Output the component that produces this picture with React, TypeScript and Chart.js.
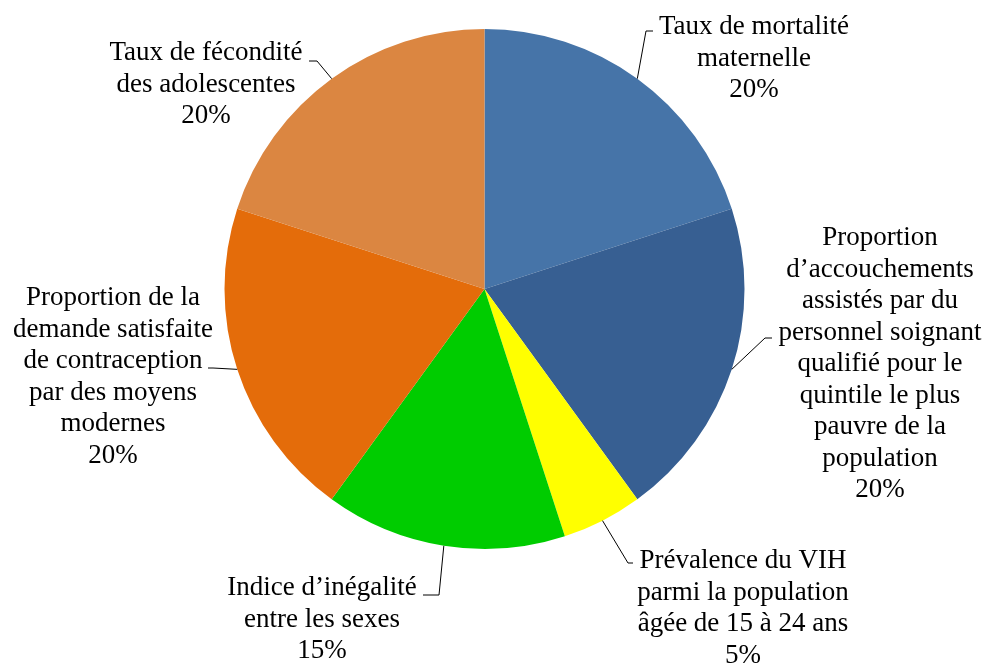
import React, { useEffect, useRef } from "react";
import { Chart, registerables } from "chart.js";

Chart.register(...registerables);

const categories = [
  "Taux de mortalité\nmaternelle",
  "Proportion\nd’accouchements\nassistés par du\npersonnel soignant\nqualifié pour le\nquintile le plus\npauvre de la\npopulation",
  "Prévalence du VIH\nparmi la population\nâgée de 15 à 24 ans",
  "Indice d’inégalité\nentre les sexes",
  "Proportion de la\ndemande satisfaite\nde contraception\npar des moyens\nmodernes",
  "Taux de fécondité\ndes adolescentes",
];
const values = [20, 20, 5, 15, 20, 20];
const colors = ["#4674A8", "#375F92", "#FFFF00", "#00CC00", "#E46C0A", "#DB8641"];

// label layout (text block centre x, first baseline, leader elbow & end)
const labelLayout = [
  { cx: 754, y0: 34, elbow: [646, 31], end: [653, 31] },
  { cx: 880, y0: 245, elbow: [765, 338], end: [772, 338] },
  { cx: 743, y0: 568, elbow: [628, 563], end: [633, 563] },
  { cx: 322, y0: 595, elbow: [439, 595], end: [423, 595] },
  { cx: 113, y0: 305, elbow: [213, 368], end: [208, 368] },
  { cx: 206, y0: 60, elbow: [317, 61], end: [309, 61] },
];
const LINE_H = 31.5;
const FONT = "27px 'Liberation Serif', 'Times New Roman', serif";

const labelPlugin = {
  id: "pieLabels",
  afterDraw(chart: any) {
    const ctx = chart.ctx;
    const meta = chart.getDatasetMeta(0);
    const total = values.reduce((a, b) => a + b, 0);
    ctx.save();
    meta.data.forEach((arc: any, i: number) => {
      const p = arc.getProps(["x", "y", "startAngle", "endAngle", "outerRadius"], true);
      const mid = (p.startAngle + p.endAngle) / 2;
      const sx = p.x + Math.cos(mid) * p.outerRadius;
      const sy = p.y + Math.sin(mid) * p.outerRadius;
      const L = labelLayout[i];
      ctx.strokeStyle = "#000";
      ctx.lineWidth = 1;
      ctx.beginPath();
      ctx.moveTo(sx, sy);
      ctx.lineTo(L.elbow[0], L.elbow[1]);
      ctx.lineTo(L.end[0], L.end[1]);
      ctx.stroke();
      const lines = categories[i].split("\n");
      lines.push(Math.round((values[i] / total) * 100) + "%");
      ctx.fillStyle = "#000";
      ctx.font = FONT;
      ctx.textAlign = "center";
      ctx.textBaseline = "alphabetic";
      lines.forEach((t, k) => {
        ctx.fillText(t, L.cx, L.y0 + k * LINE_H);
      });
    });
    ctx.restore();
  },
};

export default function App() {
  const ref = useRef<HTMLCanvasElement>(null);
  useEffect(() => {
    if (!ref.current) return;
    const chart = new Chart(ref.current, {
      type: "pie",
      data: {
        labels: categories,
        datasets: [
          {
            data: values,
            backgroundColor: colors,
            borderWidth: 0,
          },
        ],
      },
      options: {
        responsive: false,
        animation: false,
        layout: { padding: { left: 224.5, right: 241.5, top: 29, bottom: 114 } },
        plugins: {
          legend: { display: false },
          tooltip: { enabled: false },
        },
      },
      plugins: [labelPlugin],
    });
    return () => chart.destroy();
  }, []);
  return (
    <div style={{ position: "absolute", left: 0, top: 0, width: 986, height: 663, background: "#fff" }}>
      <canvas ref={ref} width={986} height={663} style={{ width: 986, height: 663 }} />
    </div>
  );
}
